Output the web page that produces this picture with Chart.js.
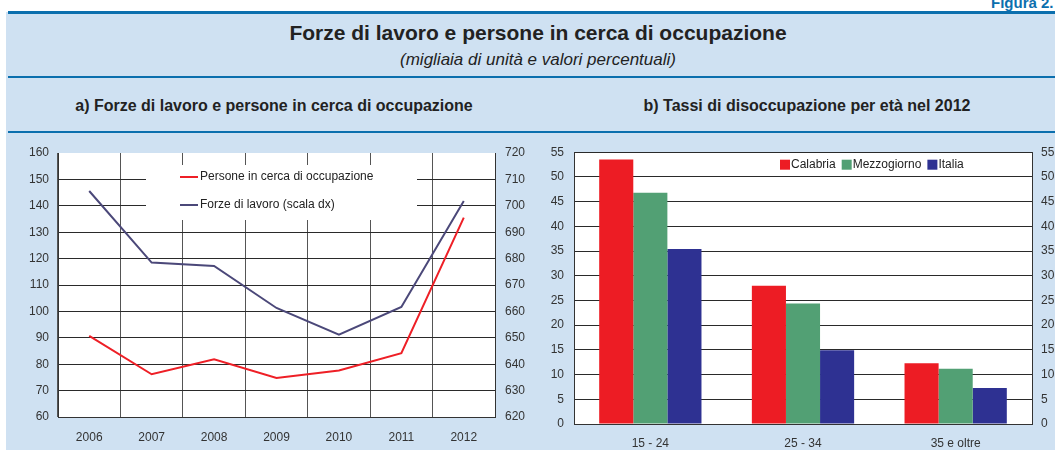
<!DOCTYPE html>
<html>
<head>
<meta charset="utf-8">
<script src="https://cdn.jsdelivr.net/npm/chart.js@4.4.1/dist/chart.umd.min.js"></script>
<style>
  body { margin: 0; width: 1055px; height: 450px; overflow: hidden; background: #fff; font-family: "Liberation Sans", Arial, sans-serif; position: relative; }
  .panel { position: absolute; left: 6px; top: 12px; width: 1049px; height: 438px; background: #cfe1f2; }
  .rule { position: absolute; left: 8px; width: 1047px; background: #0b6fae; }
  .txt { position: absolute; text-align: center; color: #222; white-space: nowrap; }
  .box { position: absolute; }
</style>
</head>
<body>
<div class="panel"></div>
<div class="txt" style="left:991px; top:-6px; width:90px; text-align:left; font-weight:bold; font-size:15px; color:#0b6fae;">Figura 2.</div>
<div class="rule" style="top:11px; height:3px;"></div>
<div class="rule" style="top:76px; height:2px;"></div>
<div class="rule" style="top:131px; height:2px;"></div>

<div class="txt" style="left:238px; width:600px; top:21px; font-size:21px; font-weight:bold;">Forze di lavoro e persone in cerca di occupazione</div>
<div class="txt" style="left:238px; width:600px; top:50px; font-size:17px; font-style:italic;">(migliaia di unità e valori percentuali)</div>
<div class="txt" style="left:24px; width:500px; top:97px; font-size:16px; font-weight:bold;">a) Forze di lavoro e persone in cerca di occupazione</div>
<div class="txt" style="left:557px; width:500px; top:97px; font-size:16px; font-weight:bold;">b) Tassi di disoccupazione per età nel 2012</div>

<div class="box" style="left:0px; top:135px;"><canvas id="lineChart" width="530" height="315"></canvas></div>
<div class="box" style="left:530px; top:135px;"><canvas id="barChart" width="525" height="315"></canvas></div>

<script>
// dati
var years = ['2006', '2007', '2008', '2009', '2010', '2011', '2012'];
var persone = [90.7, 76.2, 81.9, 74.8, 77.6, 84.2, 135.5];      // scala sx
var forze = [705.6, 678.5, 677.2, 661.3, 651.2, 661.7, 701.8];  // scala dx
var leftRange = [60, 160, 10];
var rightRange = [620, 720, 10];

var ageGroups = ['15 - 24', '25 - 34', '35 e oltre'];
var calabria = [53.5, 28.0, 12.3];
var mezzogiorno = [46.8, 24.4, 11.2];
var italia = [35.4, 14.9, 7.3];
var rateRange = [0, 55, 5];

Chart.defaults.font.family = '"Liberation Sans", Arial, sans-serif';
Chart.defaults.font.size = 12;
Chart.defaults.color = '#333';

var FONT = '12px "Liberation Sans", Arial, sans-serif';

// sfondo bianco dell'area del grafico
var whiteArea = {
    id: 'whiteArea',
    beforeDraw: function (chart) {
        var a = chart.chartArea;
        chart.ctx.save();
        chart.ctx.fillStyle = '#fff';
        chart.ctx.fillRect(a.left, a.top, a.right - a.left, a.bottom - a.top);
        chart.ctx.restore();
    }
};

// legenda dentro l'area, con riquadro bianco sopra la griglia
var boxLegend = {
    id: 'boxLegend',
    beforeDatasetsDraw: function (chart, args, opts) {
        var a = chart.chartArea, ctx = chart.ctx;
        ctx.save();
        ctx.font = FONT;
        ctx.textBaseline = 'middle';
        if (opts.w) {
            ctx.fillStyle = '#fff';
            ctx.fillRect(a.left + opts.x, a.top + opts.y, opts.w, opts.h);
        }
        var x = a.left + opts.lx;
        chart.data.datasets.forEach(function (ds, i) {
            if (opts.type == 'line') {
                var y = a.top + opts.rows[i];
                ctx.strokeStyle = ds.borderColor;
                ctx.lineWidth = 2;
                ctx.beginPath();
                ctx.moveTo(x, y);
                ctx.lineTo(x + 18, y);
                ctx.stroke();
                ctx.fillStyle = '#222';
                ctx.fillText(ds.label, x + 20, y);
            } else {
                var yc = a.top + opts.rows[0];
                ctx.fillStyle = ds.backgroundColor;
                ctx.fillRect(x, yc - 5, 10, 10);
                ctx.fillStyle = '#222';
                ctx.fillText(ds.label, x + 11, yc);
                x += 11 + ctx.measureText(ds.label).width + 6;
            }
        });
        ctx.restore();
    }
};

new Chart(document.getElementById('lineChart'), {
    type: 'line',
    data: {
        labels: years,
        datasets: [
            { label: 'Persone in cerca di occupazione', data: persone, yAxisID: 'y', borderColor: '#ee1f26', borderWidth: 2, pointRadius: 0, tension: 0 },
            { label: 'Forze di lavoro (scala dx)', data: forze, yAxisID: 'y1', borderColor: '#4b4879', borderWidth: 2, pointRadius: 0, tension: 0 }
        ]
    },
    options: {
        responsive: false,
        animation: false,
        layout: { padding: { top: 18, left: 0, right: 0, bottom: 0 } },
        plugins: {
            legend: { display: false },
            tooltip: { enabled: false },
            boxLegend: { type: 'line', x: 88, y: 12, w: 271, h: 55, lx: 122, rows: [24, 52] }
        },
        scales: {
            x: {
                offset: true,
                grid: { offset: true, color: '#555', lineWidth: 1, drawTicks: false },
                border: { color: '#333', width: 1 },
                ticks: { padding: 13, color: '#333' },
                afterFit: function (s) { s.height = 33; }
            },
            y: {
                position: 'left',
                min: leftRange[0], max: leftRange[1],
                ticks: { stepSize: leftRange[2], padding: 9, color: '#333' },
                grid: {
                    drawTicks: false, lineWidth: 1,
                    color: function (c) { return c.tick && c.tick.value == leftRange[1] ? 'rgba(0,0,0,0)' : '#2a2a2a'; }
                },
                border: { color: '#333', width: 1 },
                afterFit: function (s) { s.width = 58; }
            },
            y1: {
                position: 'right',
                min: rightRange[0], max: rightRange[1],
                ticks: { stepSize: rightRange[2], padding: 10, color: '#333' },
                grid: { drawOnChartArea: false, drawTicks: false },
                border: { color: '#333', width: 1 },
                afterFit: function (s) { s.width = 35; }
            }
        }
    },
    plugins: [whiteArea, boxLegend]
});

new Chart(document.getElementById('barChart'), {
    type: 'bar',
    data: {
        labels: ageGroups,
        datasets: [
            { label: 'Calabria', data: calabria, backgroundColor: '#ed1c24', yAxisID: 'y' },
            { label: 'Mezzogiorno', data: mezzogiorno, backgroundColor: '#52a074', yAxisID: 'y' },
            { label: 'Italia', data: italia, backgroundColor: '#2e3192', yAxisID: 'y' }
        ]
    },
    options: {
        responsive: false,
        animation: false,
        layout: { padding: { top: 12, left: 0, right: 0, bottom: 0 } },
        datasets: { bar: { categoryPercentage: 0.67, barPercentage: 1.0, borderWidth: 0 } },
        plugins: {
            legend: { display: false },
            tooltip: { enabled: false },
            boxLegend: { type: 'box', lx: 206, rows: [12.5] }
        },
        scales: {
            x: {
                grid: { display: false, drawTicks: false },
                border: { color: '#333', width: 1 },
                ticks: { padding: 12, color: '#333' },
                afterFit: function (s) { s.height = 26; }
            },
            y: {
                position: 'left',
                min: rateRange[0], max: rateRange[1],
                ticks: { stepSize: rateRange[2], padding: 10, color: '#333' },
                grid: { drawTicks: false, color: '#2a2a2a', lineWidth: 1 },
                border: { color: '#333', width: 1 },
                afterFit: function (s) { s.width = 44; }
            },
            y1: {
                position: 'right',
                min: rateRange[0], max: rateRange[1],
                ticks: { stepSize: rateRange[2], padding: 9, color: '#333' },
                grid: { drawOnChartArea: false, drawTicks: false },
                border: { color: '#333', width: 1 },
                afterFit: function (s) { s.width = 23; }
            }
        }
    },
    plugins: [whiteArea, boxLegend]
});
</script>
</body>
</html>
